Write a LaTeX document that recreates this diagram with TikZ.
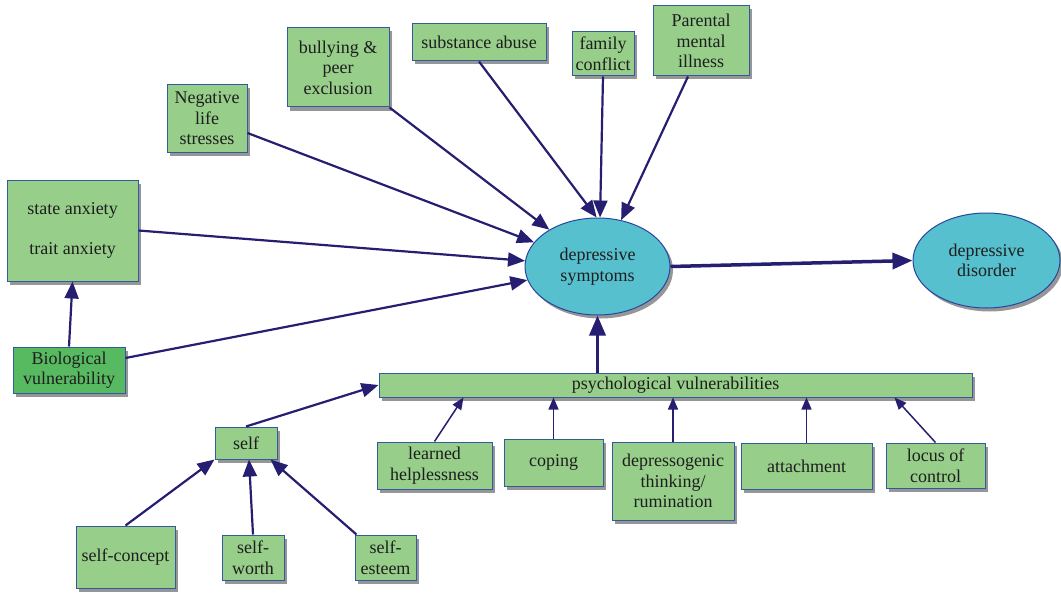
\documentclass[tikz,border=0pt]{standalone}
\usepackage{fontspec}
\setmainfont{Liberation Serif}
\newfontfamily\timesfont{Liberation Serif}
\usetikzlibrary{arrows.meta,shapes.geometric,calc}
\definecolor{boxfill}{RGB}{150,206,138}
\definecolor{biofill}{RGB}{88,186,96}
\definecolor{boxline}{RGB}{50,90,160}
\definecolor{ellfill}{RGB}{86,192,206}
\definecolor{ellline}{RGB}{40,70,160}
\definecolor{arr}{RGB}{38,30,112}
\definecolor{txt}{RGB}{30,30,30}
\definecolor{shadowc}{RGB}{150,150,150}
\begin{document}
\begin{tikzpicture}[x=1pt,y=-1pt,
  font=\timesfont\fontsize{18}{20.5}\selectfont, text=txt,
  shd/.style={preaction={fill=shadowc, transform canvas={xshift=3pt,yshift=-3.5pt}}},
  bx/.style={draw=boxline, fill=boxfill, line width=1pt, inner sep=0pt, align=center, shd},
  el/.style={ellipse, draw=ellline, fill=ellfill, line width=1pt, inner sep=0pt, align=center, shd},
  ar/.style={draw=arr, line width=2.2pt, -{Triangle[length=17pt,width=14pt]}},
  tn/.style={draw=arr, line width=1.5pt, -{Triangle[length=12pt,width=10pt]}},
  tk/.style={draw=arr, line width=3.5pt, -{Triangle[length=20pt,width=16pt]}}]
\useasboundingbox (0,0) rectangle (1061,594);
% nodes
\node[bx, minimum width=131pt, minimum height=101pt] (anx) at (72.5,230.5) {state anxiety\\[19pt]trait anxiety};
\node[bx, fill=biofill, minimum width=112pt, minimum height=46pt] (bio) at (69,370) {Biological\\vulnerability};
\node[bx, minimum width=80pt, minimum height=67pt] (neg) at (207,118.5) {Negative\\life\\stresses};
\node[bx, minimum width=102pt, minimum height=79pt] (bul) at (338,67.5) {bullying \&\\peer\\exclusion};
\node[bx, minimum width=134pt, minimum height=37pt] (sub) at (479,42.5) {substance abuse};
\node[bx, minimum width=62pt, minimum height=44pt] (fam) at (603,54) {family\\conflict};
\node[bx, minimum width=96pt, minimum height=70pt] (par) at (701,41) {Parental\\mental\\illness};
\node[el, minimum width=145pt, minimum height=97pt] (sym) at (597.5,266.5) {depressive\\symptoms};
\node[el, minimum width=147pt, minimum height=95pt] (dis) at (986.5,260.5) {depressive\\disorder};
\node[bx, minimum width=593pt, minimum height=24pt] (psy) at (675.5,385) {psychological vulnerabilities};
\node[bx, minimum width=62pt, minimum height=32pt] (self) at (246,443) {self};
\node[bx, minimum width=115pt, minimum height=47pt] (lh) at (434.5,465.5) {learned\\helplessness};
\node[bx, minimum width=99pt, minimum height=47pt] (cop) at (553.5,462.5) {coping};
\node[bx, minimum width=122pt, minimum height=78pt] (dep) at (673,481) {depressogenic\\thinking/\\rumination};
\node[bx, minimum width=131pt, minimum height=46pt] (att) at (806.5,466) {attachment};
\node[bx, minimum width=99pt, minimum height=45pt] (loc) at (935.5,465.5) {locus of\\control};
\node[bx, minimum width=99pt, minimum height=62pt] (sc) at (125.5,557) {self-concept};
\node[bx, minimum width=62pt, minimum height=45pt] (sw) at (253,557.5) {self-\\worth};
\node[bx, minimum width=61pt, minimum height=45pt] (se) at (385.5,557.5) {self-\\esteem};
% connectors
\draw[ar] ([yshift=-14.5pt]neg.east) -- (sym);
\draw[ar] (bul.south east) -- (sym);
\draw[ar] (anx.east) -- (sym);
\draw[ar] ([yshift=12pt]bio.east) -- (sym);
\draw[ar] (bio.north) -- (anx.south);
\draw[ar] (sub.south) -- (sym.91);
\draw[ar] (fam.south) -- (sym.87);
\draw[ar] ([xshift=-13pt]par.south) -- (sym.63);
\draw[tk] (sym.east) -- (dis.west);
\draw[tk] (sym.south |- psy.north) -- (sym.south);
\draw[ar] (self.north) -- (psy.west);
\draw[tn] (lh.north) -- ($(psy.south west)+(85,0)$);
\draw[tn] (cop.north) -- (cop.north |- psy.south);
\draw[tn] (dep.north) -- (dep.north |- psy.south);
\draw[tn] (att.north) -- (att.north |- psy.south);
\draw[tn] (loc.north) -- ($(psy.south west)+(516,0)$);
\draw[ar] (sc.north) -- (self.south west);
\draw[ar] (sw.north) -- ([xshift=3pt]self.south);
\draw[ar] ([xshift=2pt]se.north west) -- ([xshift=-7pt]self.south east);
\end{tikzpicture}
\end{document}
